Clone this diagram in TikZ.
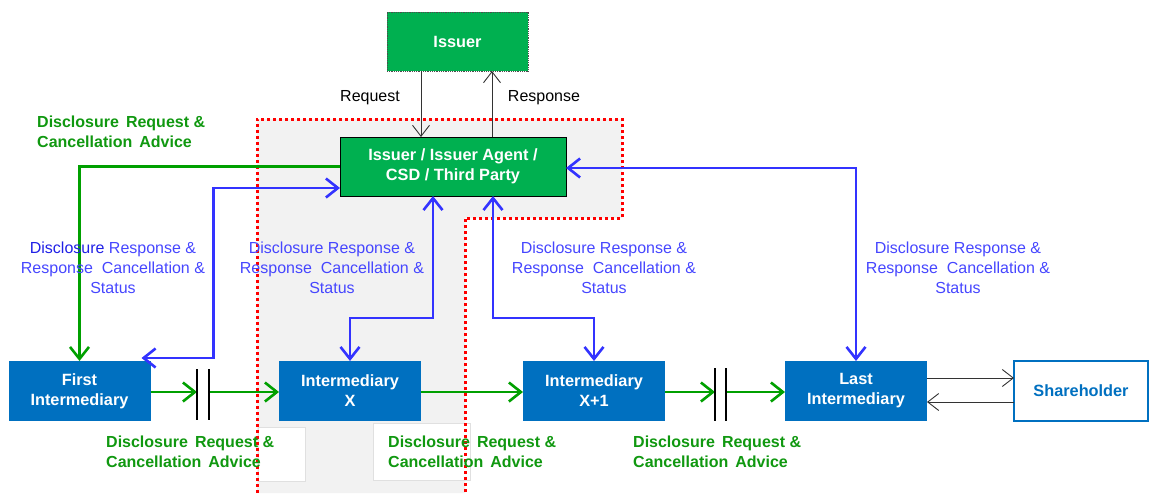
\documentclass[tikz,border=0pt]{standalone}
\usepackage{fontspec}
\setmainfont{Liberation Sans}
\usetikzlibrary{arrows.meta,calc}
\definecolor{boxgreen}{RGB}{0,176,80}
\definecolor{boxblue}{RGB}{0,112,192}
\definecolor{lgreen}{RGB}{0,160,0}
\definecolor{tgreen}{RGB}{16,152,16}
\definecolor{lblue}{RGB}{51,51,255}
\definecolor{tblue}{RGB}{70,70,255}
\definecolor{dblue}{RGB}{32,32,230}
\definecolor{areagray}{RGB}{242,242,242}
\newcommand{\gsp}{\hspace{7pt}}
\begin{document}
\begin{tikzpicture}[x=1pt,y=-1pt,
  font=\fontsize{16}{20}\selectfont,
  gbox/.style={fill=boxgreen, draw=black, line width=0.8pt, text=white, font=\fontsize{16.3}{20}\selectfont\bfseries, align=center, inner sep=0pt, outer sep=0pt},
  bbox/.style={fill=boxblue, text=white, font=\fontsize{16.3}{20}\selectfont\bfseries, align=center, inner sep=0pt, outer sep=0pt, minimum width=142pt, minimum height=60pt},
  sbox/.style={fill=white, draw=boxblue, line width=1.2pt, text=boxblue, font=\fontsize{16.3}{20}\selectfont\bfseries, align=center, inner sep=0pt, outer sep=0pt, minimum width=134pt, minimum height=60pt},
  gline/.style={draw=lgreen, line width=2.9pt, -{Straight Barb[length=12pt,width=19pt,line width=2.6pt]}},
  bline/.style={draw=lblue, line width=2.9pt, {Straight Barb[length=12pt,width=19pt,line width=2.6pt]}-{Straight Barb[length=12pt,width=19pt,line width=2.6pt]}},
  barrow/.style={draw=black!80, line width=0.9pt, -{Straight Barb[length=11pt,width=17pt,line width=0.9pt]}},
  barline/.style={draw=black, line width=1.4pt},
  glabel/.style={text=tgreen, font=\fontsize{16}{20}\selectfont\bfseries, align=left, inner sep=0pt, anchor=west},
  blabel/.style={text=tblue, align=center, inner sep=0pt},
  reddot/.style={draw=red, line width=3pt, dash pattern=on 3pt off 3pt},
]
\useasboundingbox (0,0) rectangle (1149,493);
% shaded region
\fill[areagray] (257,119) -- (622,119) -- (622,218) -- (465,218) -- (465,493) -- (257,493) -- cycle;
\filldraw[fill=white, draw=black!12, line width=0.8pt] (258,427) rectangle (305,481);
\filldraw[fill=white, draw=black!12, line width=0.8pt] (373,423) rectangle (470,480);
\draw[reddot] (257,493) -- (257,119) -- (622,119) -- (622,218) -- (465,218) -- (465,493);

% nodes
\node[gbox, draw=black!70, densely dotted, minimum width=141pt, minimum height=59pt] (issuer) at (457.5,41.5) {Issuer};
\node[gbox, minimum width=226pt, minimum height=59pt] (central) at (453,166.5) {Issuer / Issuer Agent /\\CSD / Third Party};
\node[bbox] (first) at (79.5,391) {First\\Intermediary};
\node[bbox] (ix) at (350,391) {Intermediary\\X};
\node[bbox] (ix1) at (594,391) {Intermediary\\X+1};
\node[bbox] (last) at (856,391) {Last\\Intermediary};
\node[sbox] (share) at (1081,391) {Shareholder};

% issuer request/response
\draw[barrow] ([xshift=-36.5pt]issuer.south) -- ([xshift=-32pt]central.north);
\draw[barrow] ([xshift=39pt]central.north) -- ([xshift=34.5pt]issuer.south);
\node (req) at (370,98) {Request};
\node (resp) at (544,98) {Response};

% blue connectors
\draw[bline] ([xshift=-20pt]central.south) -- ++(0,122) -| (ix.north);
\draw[bline] ([xshift=40pt]central.south) -- ++(0,122) -| (ix1.north);
\draw[bline] ([yshift=-1.5pt]central.east) -| (last.north);
\draw[bline] ([xshift=-9pt,yshift=3pt]first.north east) -- ++(72,0) |- ([yshift=-21.5pt]central.west);

% green connectors
\draw[gline] (central.west) -| (first.north);
\coordinate (barA) at (203,392);
\coordinate (barB) at (721,392);
\draw[gline] ([yshift=-1pt]first.east) -- ([xshift=-6pt]barA);
\draw[barline] ([xshift=-6pt]barA) ++(0,-23) -- ++(0,51);
\draw[barline] ([xshift=6pt]barA) ++(0,-23) -- ++(0,51);
\draw[gline] ([xshift=7pt]barA) -- ([yshift=-1pt]ix.west);
\draw[gline] ([yshift=-1pt]ix.east) -- ([yshift=-1pt]ix1.west);
\draw[gline] ([yshift=-1pt]ix1.east) -- ([xshift=-6pt]barB);
\draw[barline] ([xshift=-6pt]barB) ++(0,-24) -- ++(0,53);
\draw[barline] ([xshift=5pt]barB) ++(0,-24) -- ++(0,53);
\draw[gline] ([xshift=6pt]barB) -- ([yshift=-1pt]last.west);

% shareholder arrows
\draw[barrow] ([yshift=13pt]last.east) -- ([yshift=13pt]share.west);
\draw[barrow] ([yshift=-11pt]share.west) -- ([yshift=-11pt]last.east);

% labels
\node[glabel] (gl0) at (37,132) {Disclosure\gsp Request \&\\Cancellation\gsp Advice};
\node[glabel] (gl1) at (106,452) {Disclosure\gsp Request \&\\Cancellation\gsp Advice};
\node[glabel] (gl2) at (388,452) {Disclosure\gsp Request \&\\Cancellation\gsp Advice};
\node[glabel] (gl3) at (633,452) {Disclosure\gsp Request \&\\Cancellation\gsp Advice};
\node[blabel] (bl1) at (113,268) {\textcolor{dblue}{Disclosure} Response \&\\Response\ \ Cancellation \&\\Status};
\node[blabel] (bl2) at (332,268) {Disclosure Response \&\\Response\ \ Cancellation \&\\Status};
\node[blabel] (bl3) at (604,268) {Disclosure Response \&\\Response\ \ Cancellation \&\\Status};
\node[blabel] (bl4) at (958,268) {Disclosure Response \&\\Response\ \ Cancellation \&\\Status};
\end{tikzpicture}
\end{document}
